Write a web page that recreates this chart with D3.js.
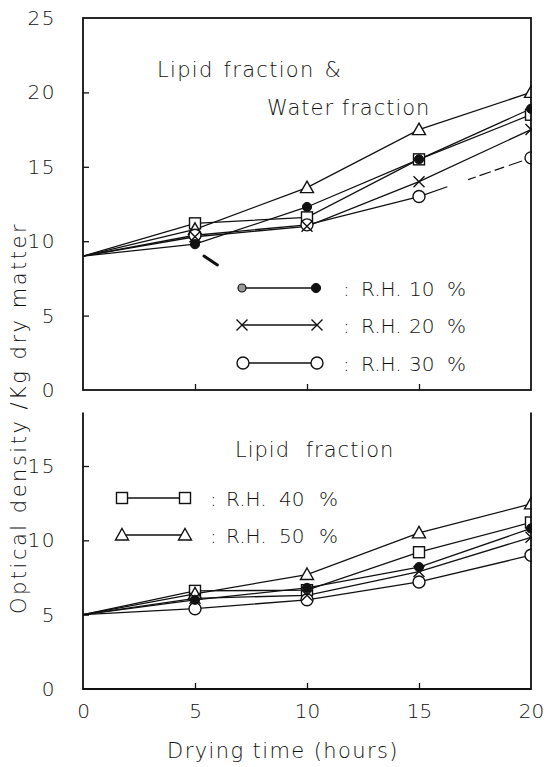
<!DOCTYPE html>
<html>
<head>
<meta charset="utf-8">
<script src="https://cdn.jsdelivr.net/npm/d3@7"></script>
<style>
  html, body { margin: 0; padding: 0; background: #fff; }
  svg { display: block; }
  text { font-family: "DejaVu Sans", sans-serif; font-weight: 200; fill: #111; }
</style>
</head>
<body>
<svg id="chart" width="548" height="767"></svg>
<script>
// Drying time (hours) at which samples were measured
const hours = [0, 5, 10, 15, 20];

// Relative humidity series
const rhNumbers = ["10", "20", "30", "40", "50"];
const rhSymbols = ["filled", "cross", "circle", "square", "triangle"];

// Lipid fraction & water fraction (optical density / kg dry matter)
const lwRH10 = [9, 9.8, 12.3, 15.5, 18.9];
const lwRH20 = [9, 10.3, 11.0, 14.0, 17.5];
const lwRH30 = [9, 10.4, 11.1, 13.0, 15.6];
const lwRH40 = [9, 11.2, 11.6, 15.5, 18.5];
const lwRH50 = [9, 10.8, 13.6, 17.5, 20.0];

// Lipid fraction only
const lRH10 = [5, 6.0, 6.8, 8.2, 10.8];
const lRH20 = [5, 6.1, 6.3, 7.9, 10.2];
const lRH30 = [5, 5.4, 6.0, 7.2, 9.0];
const lRH40 = [5, 6.6, 6.65, 9.2, 11.2];
const lRH50 = [5, 6.4, 7.7, 10.5, 12.45];

// Axis ticks
const xTicks = [0, 5, 10, 15, 20];
const yTicksTop = [0, 5, 10, 15, 20, 25];
const yTicksBottom = [0, 5, 10, 15];

const topSeries = [lwRH10, lwRH20, lwRH30, lwRH40, lwRH50];
const bottomSeries = [lRH10, lRH20, lRH30, lRH40, lRH50];

const svg = d3.select("#chart");

const x = d3.scaleLinear().domain([0, 20]).range([83, 531]);
const yTop = d3.scaleLinear().domain([0, 25]).range([390, 18]);
const yBot = d3.scaleLinear().domain([0, 15]).range([689, 466]);
const botTopValue = 18.6;

const defs = svg.append("defs");
defs.append("clipPath").attr("id", "clipTop")
  .append("rect").attr("x", 60).attr("y", 0).attr("width", x(20) - 60 + 1).attr("height", 400);
defs.append("clipPath").attr("id", "clipBot")
  .append("rect").attr("x", 60).attr("y", 400).attr("width", x(20) - 60 + 1).attr("height", 300);

function marker(g, type, cx, cy) {
  if (type === "filled") {
    g.append("circle").attr("cx", cx).attr("cy", cy).attr("r", 4.6)
      .attr("fill", "#111").attr("stroke", "#111").attr("stroke-width", 1);
  } else if (type === "cross") {
    const s = 5.5;
    g.append("path")
      .attr("d", `M${cx - s},${cy - s}L${cx + s},${cy + s}M${cx - s},${cy + s}L${cx + s},${cy - s}`)
      .attr("stroke", "#111").attr("stroke-width", 1.4).attr("fill", "none");
  } else if (type === "circle") {
    g.append("circle").attr("cx", cx).attr("cy", cy).attr("r", 6)
      .attr("fill", "#fff").attr("stroke", "#111").attr("stroke-width", 1.4);
  } else if (type === "square") {
    g.append("rect").attr("x", cx - 5.5).attr("y", cy - 5.5).attr("width", 11).attr("height", 11)
      .attr("fill", "#fff").attr("stroke", "#111").attr("stroke-width", 1.4);
  } else if (type === "triangle") {
    g.append("path")
      .attr("d", `M${cx},${cy - 6.5}L${cx + 6.5},${cy + 5}L${cx - 6.5},${cy + 5}Z`)
      .attr("fill", "#fff").attr("stroke", "#111").attr("stroke-width", 1.4);
  }
}

function drawPanel(series, yScale, clipId, dashedIndex) {
  const g = svg.append("g").attr("clip-path", `url(#${clipId})`);
  const line = d3.line().x((d, i) => x(hours[i])).y(d => yScale(d));
  series.forEach((vals, si) => {
    if (si === dashedIndex) {
      // last segment of this series is broken on the print
      g.append("path").datum(vals.slice(0, 4)).attr("d", line)
        .attr("fill", "none").attr("stroke", "#111").attr("stroke-width", 1.3);
      const seg = d3.line().x(d => x(d[0])).y(d => yScale(d[1]));
      g.append("path").datum([[hours[3], vals[3]], [hours[4], vals[4]]]).attr("d", seg)
        .attr("fill", "none").attr("stroke", "#111").attr("stroke-width", 1.2)
        .attr("stroke-dasharray", "30 22 8 4 12 4 10 5 14 3 20");
    } else {
      g.append("path").datum(vals).attr("d", line)
        .attr("fill", "none").attr("stroke", "#111").attr("stroke-width", 1.3);
    }
  });
  // markers, drawn from the largest symbols down so small ones stay visible
  const order = [3, 4, 2, 1, 0];
  order.forEach(si => {
    series[si].forEach((v, i) => {
      if (hours[i] === 0) return;
      marker(g, rhSymbols[si], x(hours[i]), yScale(v));
    });
  });
  return g;
}

drawPanel(topSeries, yTop, "clipTop", 2);
drawPanel(bottomSeries, yBot, "clipBot", -1);

// small pointer stroke near the 5 h points
svg.append("path")
  .attr("d", `M${x(5.4)},${yTop(9.0)}L${x(6.0)},${yTop(8.4)}`)
  .attr("stroke", "#111").attr("stroke-width", 3).attr("stroke-linecap", "round");

// Frames
const frame = svg.append("g").attr("fill", "none").attr("stroke", "#111").attr("stroke-width", 1.8);
frame.append("rect").attr("x", x(0)).attr("y", yTop(25)).attr("width", x(20) - x(0)).attr("height", yTop(0) - yTop(25));
frame.append("path").attr("d",
  `M${x(0)},${yBot(botTopValue)}L${x(0)},${yBot(0)}L${x(20)},${yBot(0)}L${x(20)},${yBot(botTopValue)}`);

function styleAxis(g) {
  g.select(".domain").remove();
  g.selectAll(".tick line").attr("stroke", "#111").attr("stroke-width", 1.3);
  g.selectAll(".tick text").attr("font-size", 20).attr("font-family", "DejaVu Sans, sans-serif")
    .attr("font-weight", 200).attr("fill", "#111").attr("letter-spacing", 1.5);
}

// Y axes
svg.append("g").attr("transform", `translate(${x(0)},0)`)
  .call(d3.axisLeft(yTop).tickValues(yTicksTop).tickSize(-6).tickPadding(27).tickFormat(d3.format("d")))
  .call(styleAxis)
  .call(g => g.selectAll(".tick line").filter(d => d === 0 || d === 25).remove());
svg.append("g").attr("transform", `translate(${x(0)},0)`)
  .call(d3.axisLeft(yBot).tickValues(yTicksBottom).tickSize(-6).tickPadding(27).tickFormat(d3.format("d")))
  .call(styleAxis)
  .call(g => g.selectAll(".tick line").filter(d => d === 0).remove());

// X axes
svg.append("g").attr("transform", `translate(0,${yTop(0)})`)
  .call(d3.axisBottom(x).tickValues([5, 10, 15]).tickSize(-6).tickFormat(""))
  .call(styleAxis);
svg.append("g").attr("transform", `translate(0,${yBot(0)})`)
  .call(d3.axisBottom(x).tickValues(xTicks).tickSize(-6).tickPadding(15).tickFormat(d3.format("d")))
  .call(styleAxis)
  .call(g => g.selectAll(".tick line").filter(d => d === 0 || d === 20).remove())
  .call(g => g.selectAll(".tick text").attr("letter-spacing", 0));

// Axis titles
svg.append("text").attr("x", 283).attr("y", 758)
  .attr("text-anchor", "middle").attr("font-size", 21).attr("letter-spacing", 1.4)
  .text("Drying time (hours)");
svg.append("text").attr("transform", `translate(26,418) rotate(-90)`)
  .attr("text-anchor", "middle").attr("font-size", 21).attr("letter-spacing", 2.5)
  .text("Optical density /Kg dry matter");

// Panel titles
svg.append("text").attr("x", 157).attr("y", 77).attr("font-size", 21).attr("letter-spacing", 1.3)
  .attr("word-spacing", 2).text("Lipid fraction &");
svg.append("text").attr("x", 267).attr("y", 115).attr("font-size", 21).attr("letter-spacing", 1)
  .text("Water fraction");
svg.append("text").attr("x", 235).attr("y", 457).attr("font-size", 21).attr("letter-spacing", 1)
  .attr("word-spacing", 8).text("Lipid fraction");

// Legends: symbol line, then ": R.H. nn %" laid out in fixed columns
function legendRow(si, x1, x2, y, cols) {
  const type = rhSymbols[si];
  const g = svg.append("g");
  g.append("line").attr("x1", x1).attr("x2", x2).attr("y1", y).attr("y2", y)
    .attr("stroke", "#111").attr("stroke-width", 1.3);
  if (type === "filled") {
    g.append("circle").attr("cx", x1).attr("cy", y).attr("r", 4)
      .attr("fill", "#999").attr("stroke", "#111").attr("stroke-width", 1.2);
  } else {
    marker(g, type, x1, y);
  }
  marker(g, type, x2, y);
  const parts = [":", "R.H.", rhNumbers[si], "%"];
  parts.forEach((p, k) => {
    g.append("text").attr("x", cols[k]).attr("y", y + 7.5).attr("font-size", 20).text(p);
  });
}
const topCols = [343, 361, 409, 447];
const botCols = [210, 226, 279, 319];
legendRow(0, 242, 316, 288, topCols);
legendRow(1, 242, 317, 325, topCols);
legendRow(2, 243, 317, 363, topCols);
legendRow(3, 122, 185, 498, botCols);
legendRow(4, 122, 185, 535, botCols);
</script>
</body>
</html>
